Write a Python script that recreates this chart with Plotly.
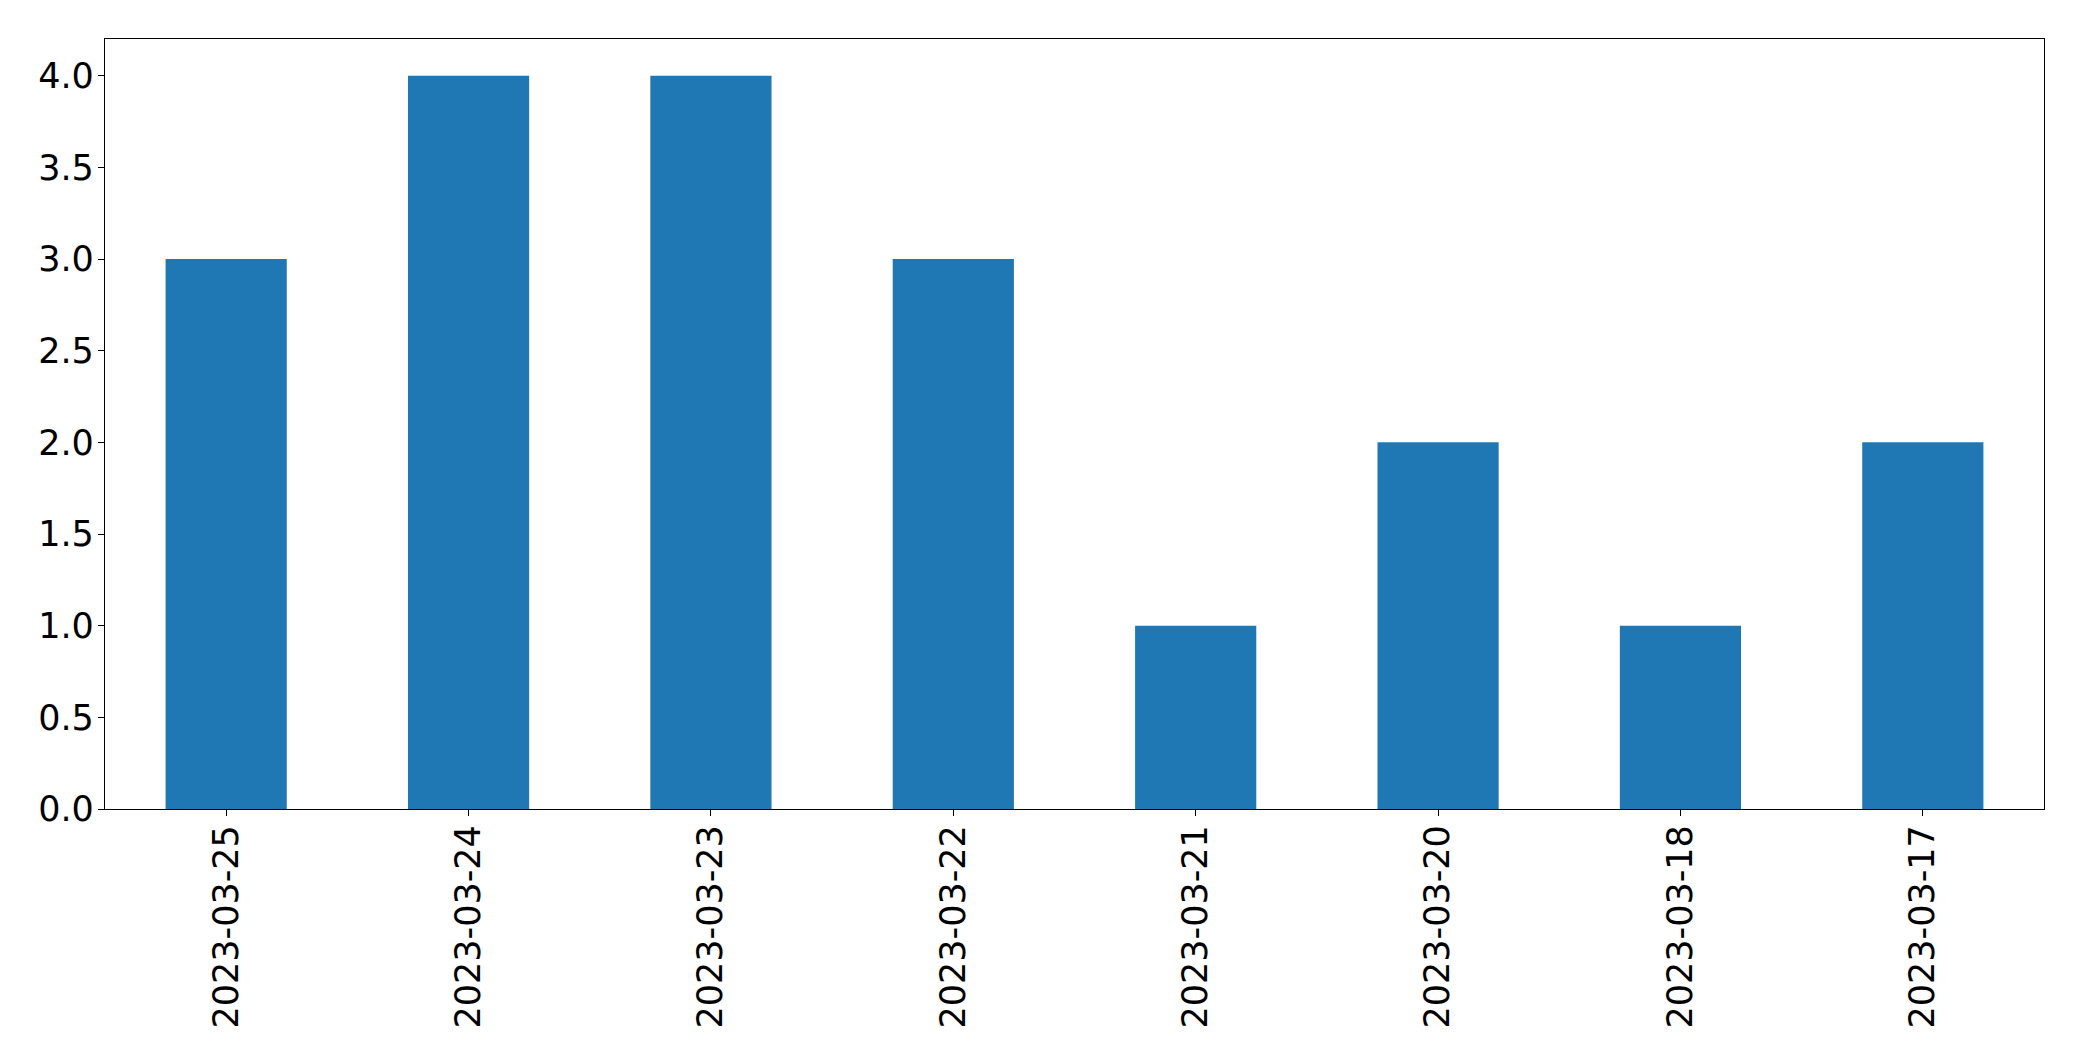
import plotly.graph_objects as go

dates = ["2023-03-25", "2023-03-24", "2023-03-23", "2023-03-22",
         "2023-03-21", "2023-03-20", "2023-03-18", "2023-03-17"]
counts = [3, 4, 4, 3, 1, 2, 1, 2]
y_ticks = [0.0, 0.5, 1.0, 1.5, 2.0, 2.5, 3.0, 3.5, 4.0]

fig = go.Figure(go.Bar(
    x=dates, y=counts, width=0.5,
    marker=dict(color="#1f77b4", line=dict(width=0)),
))

fig.update_layout(
    width=2074, height=1053,
    margin=dict(l=97, r=38, t=31, b=252, autoexpand=False),
    plot_bgcolor="white", paper_bgcolor="white",
    font=dict(family="DejaVu Sans", size=35, color="black"),
    showlegend=False,
)
fig.update_xaxes(
    type="category", range=[-0.5, 7.5],
    tickangle=-90, ticks="outside", ticklen=6, tickwidth=1.2, tickcolor="black",
    showline=True, linecolor="black", linewidth=1.3, mirror=True,
    showgrid=False, zeroline=False, ticklabelstandoff=-5,
)
fig.update_yaxes(
    range=[0, 4.2], tickvals=y_ticks, ticktext=[f"{v:.1f}" for v in y_ticks],
    ticks="outside", ticklen=6, tickwidth=1.2, tickcolor="black",
    showline=True, linecolor="black", linewidth=1.3, mirror=True,
    showgrid=False, zeroline=False, ticklabelstandoff=-3,
)

fig.write_html("out.html")
